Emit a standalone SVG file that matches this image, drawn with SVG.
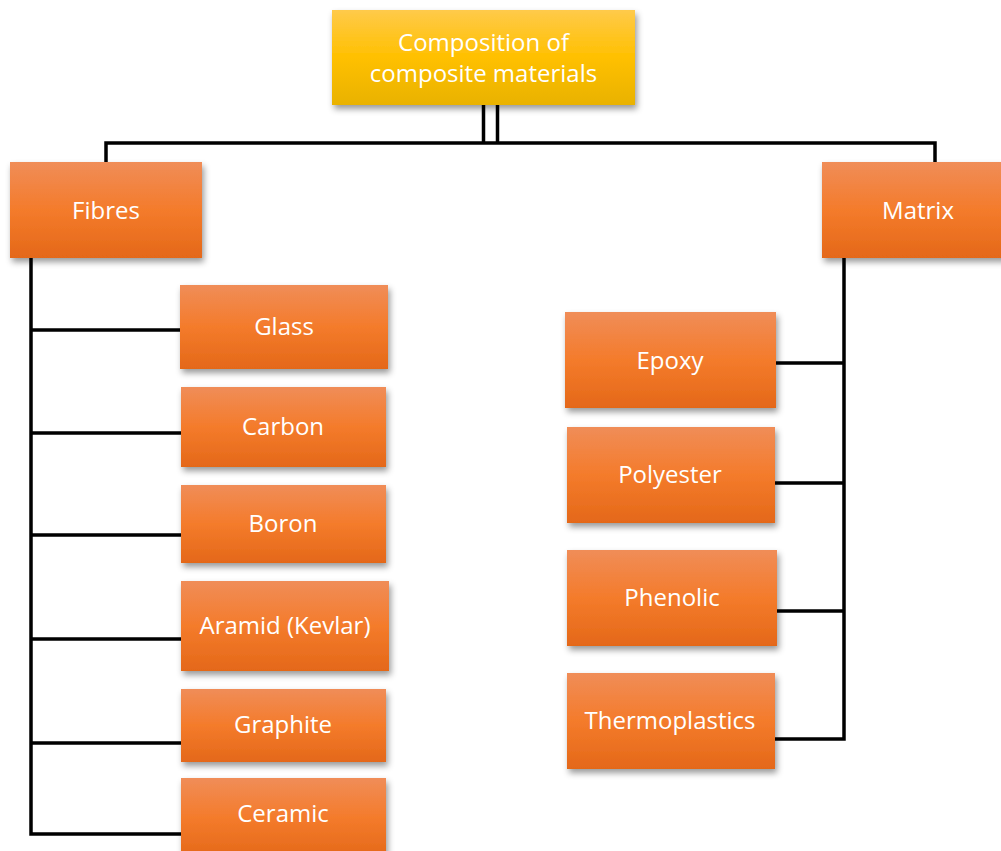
<svg xmlns="http://www.w3.org/2000/svg" width="1001" height="851" viewBox="0 0 1001 851">
<defs>
<linearGradient id="og" x1="0" y1="0" x2="0" y2="1">
<stop offset="0" stop-color="#F08D58"/>
<stop offset="0.5" stop-color="#F47B2B"/>
<stop offset="1" stop-color="#E46819"/>
</linearGradient>
<linearGradient id="yg" x1="0" y1="0" x2="0" y2="1">
<stop offset="0" stop-color="#FFCA4A"/>
<stop offset="0.5" stop-color="#FFC000"/>
<stop offset="1" stop-color="#E9B200"/>
</linearGradient>
<filter id="sh" x="-10%" y="-10%" width="125%" height="130%">
<feDropShadow dx="2" dy="4" stdDeviation="3" flood-color="#000" flood-opacity="0.4"/>
</filter>
</defs>
<style>
.o{fill:url(#og);filter:url(#sh)}
.y{fill:url(#yg);filter:url(#sh)}
text{font-family:"Open Sans","Liberation Sans",sans-serif;font-size:24px;fill:#fff;text-anchor:middle;dominant-baseline:central}
.c{fill:none;stroke:#000;stroke-width:3.5}
</style>
<rect width="1001" height="851" fill="#fff"/>
<g id="connectors">
<path class="c" d="M483.5 105V143M497.5 105V143M106 162V143H935V162"/>
<path class="c" d="M31 258V834H181M31 330H181M31 433H181M31 535H181M31 639H181M31 743H181"/>
<path class="c" d="M844 258V739H775M776 363H844M775 483H844M777 611H844"/>
</g>
<g id="root"><rect class="y" x="332" y="10" width="303" height="95"/><text x="483.5" y="41">Composition of</text><text x="483.5" y="72">composite materials</text></g>
<g id="fibres"><rect class="o" x="10" y="162" width="192" height="96"/><text x="106" y="209">Fibres</text></g>
<g id="matrix"><rect class="o" x="822" y="162" width="190" height="96"/><text x="918" y="209">Matrix</text></g>
<g id="glass"><rect class="o" x="180" y="285" width="208" height="84"/><text x="284" y="325">Glass</text></g>
<g id="carbon"><rect class="o" x="181" y="387" width="205" height="80"/><text x="283" y="425">Carbon</text></g>
<g id="boron"><rect class="o" x="181" y="485" width="205" height="78"/><text x="283" y="522">Boron</text></g>
<g id="aramid"><rect class="o" x="181" y="581" width="208" height="90"/><text x="285" y="624">Aramid (Kevlar)</text></g>
<g id="graphite"><rect class="o" x="181" y="689" width="205" height="73"/><text x="283" y="723">Graphite</text></g>
<g id="ceramic"><rect class="o" x="181" y="778" width="205" height="80"/><text x="283" y="812">Ceramic</text></g>
<g id="epoxy"><rect class="o" x="565" y="312" width="211" height="96"/><text x="670" y="359">Epoxy</text></g>
<g id="polyester"><rect class="o" x="567" y="427" width="208" height="96"/><text x="670" y="473">Polyester</text></g>
<g id="phenolic"><rect class="o" x="567" y="550" width="210" height="96"/><text x="672" y="596">Phenolic</text></g>
<g id="thermoplastics"><rect class="o" x="567" y="673" width="208" height="96"/><text x="670" y="719">Thermoplastics</text></g>
</svg>
